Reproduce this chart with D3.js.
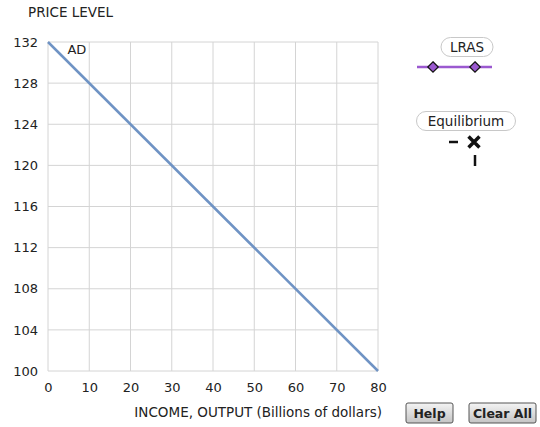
<!DOCTYPE html>
<html>
<head>
<meta charset="utf-8">
<script src="https://cdn.jsdelivr.net/npm/d3@7"></script>
<style>
  body { margin: 0; background: #fff; }
  svg text { font-family: "DejaVu Sans", sans-serif; fill: #222; }
</style>
</head>
<body>
<div id="chart"></div>
<script>
// axis ticks
var xTicks = [0, 10, 20, 30, 40, 50, 60, 70, 80];
var yTicks = [100, 104, 108, 112, 116, 120, 124, 128, 132];

// AD curve points (output, price level)
var adOutput = [0, 80];
var adPrice = [132, 100];

var legendLabels = ["LRAS", "Equilibrium"];

// set the dimensions and margins of the graph
var margin = {top: 42, right: 162, bottom: 56, left: 48},
    width = 540 - margin.left - margin.right,
    height = 427 - margin.top - margin.bottom;

var root = d3.select("#chart")
  .append("svg")
    .attr("width", 540)
    .attr("height", 427);

var svg = root.append("g")
    .attr("transform", "translate(" + margin.left + "," + margin.top + ")");

var x = d3.scaleLinear().domain([0, 80]).range([0, width]);
var y = d3.scaleLinear().domain([100, 132]).range([height, 0]);

// grid
svg.append("g")
  .selectAll("line.v")
  .data(xTicks)
  .enter().append("line")
    .attr("x1", d => x(d)).attr("x2", d => x(d))
    .attr("y1", 0).attr("y2", height)
    .attr("stroke", "#d4d4d4").attr("stroke-width", 1);
svg.append("g")
  .selectAll("line.h")
  .data(yTicks)
  .enter().append("line")
    .attr("x1", 0).attr("x2", width)
    .attr("y1", d => y(d)).attr("y2", d => y(d))
    .attr("stroke", "#d4d4d4").attr("stroke-width", 1);

// axes (labels only, no domain)
var xAxis = svg.append("g")
  .attr("transform", "translate(0," + height + ")")
  .call(d3.axisBottom(x).tickValues(xTicks).tickSize(0).tickPadding(12));
xAxis.select(".domain").remove();
xAxis.selectAll("text").style("font-size", "13px").attr("fill", "#222");

var yAxis = svg.append("g")
  .call(d3.axisLeft(y).tickValues(yTicks).tickSize(0).tickPadding(10));
yAxis.select(".domain").remove();
yAxis.selectAll("text").style("font-size", "13px").attr("fill", "#222");

// axis titles
root.append("text")
  .attr("x", 28).attr("y", 17)
  .style("font-size", "13.5px")
  .text("PRICE LEVEL");
root.append("text")
  .attr("x", margin.left + width + 4).attr("y", 417)
  .attr("text-anchor", "end")
  .style("font-size", "13.5px")
  .text("INCOME, OUTPUT (Billions of dollars)");

// AD line
var adData = adOutput.map((d, i) => ({x: d, y: adPrice[i]}));
svg.append("path")
  .datum(adData)
  .attr("fill", "none")
  .attr("stroke", "#6f93c4")
  .attr("stroke-width", 2.5)
  .attr("d", d3.line().x(d => x(d.x)).y(d => y(d.y)));

svg.append("text")
  .attr("x", x(7)).attr("y", y(130.8))
  .attr("text-anchor", "middle")
  .style("font-size", "13px")
  .text("AD");

// legend: pill labels
function pill(cx, cy, w, label) {
  root.append("rect")
    .attr("x", cx - w / 2).attr("y", cy - 9.5)
    .attr("width", w).attr("height", 19)
    .attr("rx", 9.5)
    .attr("fill", "#fff").attr("stroke", "#c8c8c8");
  root.append("text")
    .attr("x", cx).attr("y", cy + 5)
    .attr("text-anchor", "middle")
    .style("font-size", "13.5px")
    .text(label);
}
pill(467, 47, 52, legendLabels[0]);
pill(466, 121, 99, legendLabels[1]);

// LRAS sample
root.append("line")
  .attr("x1", 417).attr("x2", 492)
  .attr("y1", 67).attr("y2", 67)
  .attr("stroke", "#9b59d0").attr("stroke-width", 2.5);
[433, 475].forEach(function(cx) {
  root.append("path")
    .attr("d", d3.symbol().type(d3.symbolDiamond2).size(70)())
    .attr("transform", "translate(" + cx + ",67)")
    .attr("fill", "#9b59d0").attr("stroke", "#111").attr("stroke-width", 1.2);
});

// Equilibrium sample
root.append("line")
  .attr("x1", 449).attr("x2", 458).attr("y1", 142).attr("y2", 142)
  .attr("stroke", "#111").attr("stroke-width", 2.5);
root.append("line")
  .attr("x1", 475).attr("x2", 475).attr("y1", 155).attr("y2", 166)
  .attr("stroke", "#111").attr("stroke-width", 2.5);
root.append("path")
  .attr("d", d3.symbol().type(d3.symbolX).size(80)())
  .attr("transform", "translate(474,142)")
  .attr("fill", "none").attr("stroke", "#111").attr("stroke-width", 3.5);

// buttons
function button(x0, w, label) {
  var g = root.append("g");
  var grad = "g" + label.replace(/\s/g, "");
  var lg = root.append("defs").append("linearGradient")
    .attr("id", grad).attr("x1", 0).attr("y1", 0).attr("x2", 0).attr("y2", 1);
  lg.append("stop").attr("offset", "0%").attr("stop-color", "#f4f4f4");
  lg.append("stop").attr("offset", "100%").attr("stop-color", "#c4c4c4");
  g.append("rect")
    .attr("x", x0).attr("y", 403).attr("width", w).attr("height", 20)
    .attr("rx", 2)
    .attr("fill", "url(#" + grad + ")").attr("stroke", "#555");
  g.append("text")
    .attr("x", x0 + w / 2).attr("y", 418)
    .attr("text-anchor", "middle")
    .style("font-size", "12.5px").style("font-weight", "bold")
    .text(label);
}
button(406, 47, "Help");
button(469, 67, "Clear All");
</script>
</body>
</html>
